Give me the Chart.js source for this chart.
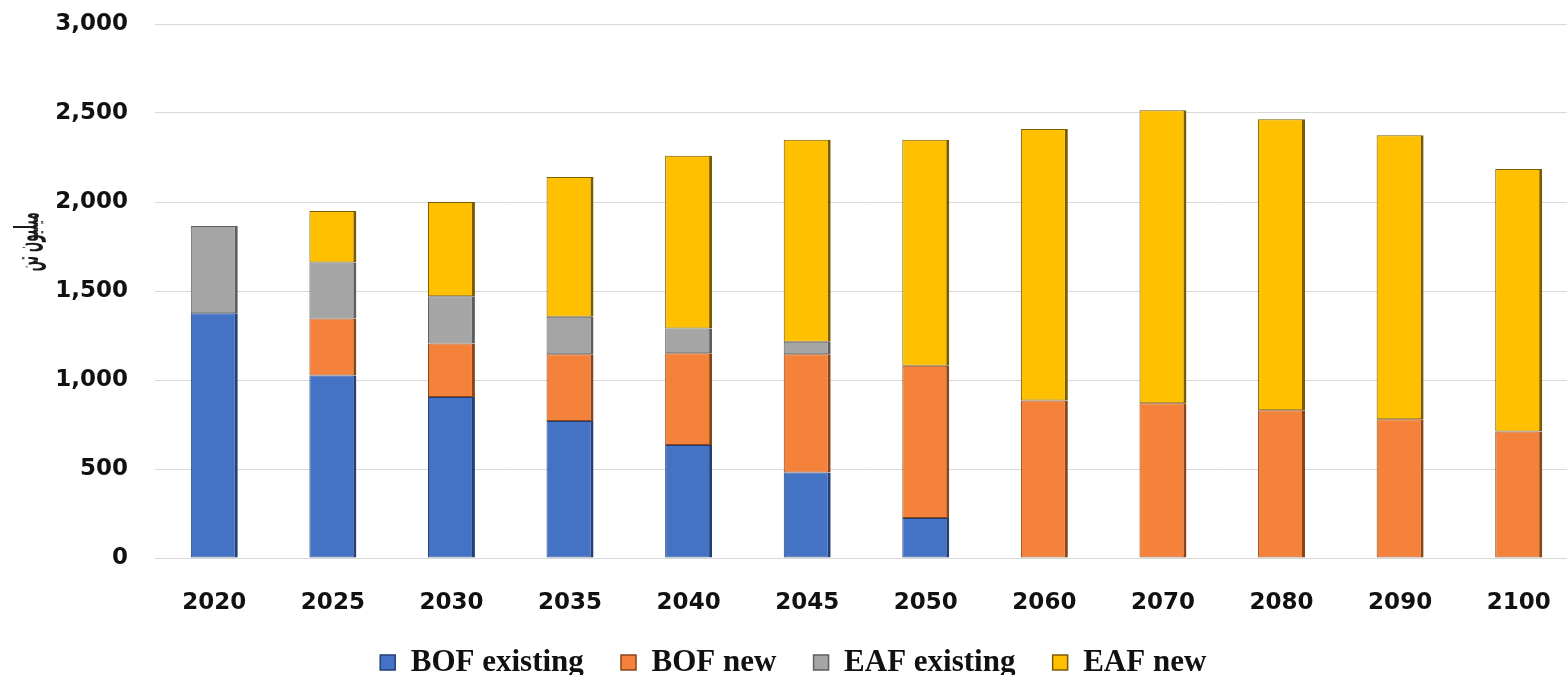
<!DOCTYPE html>
<html>
<head>
<meta charset="utf-8">
<script src="https://cdn.jsdelivr.net/npm/chart.js@4.4.1/dist/chart.umd.min.js"></script>
<style>
  html, body { margin: 0; padding: 0; background: #fff; overflow: hidden; }
  #wrap { width: 1578px; height: 675px; }
</style>
</head>
<body>
<div id="wrap"><canvas id="steel-chart" width="1578" height="675"></canvas></div>
<script>
// Data (million tonnes)
const years = ['2020', '2025', '2030', '2035', '2040', '2045', '2050', '2060', '2070', '2080', '2090', '2100'];
const bofExisting = [1375, 1025, 905, 770, 635, 480, 225, null, null, null, null, null];
const bofNew = [null, 320, 300, 375, 515, 665, 855, 885, 870, 830, 780, 710];
const eafExisting = [490, 315, 265, 210, 140, 70, null, null, null, null, null, null];
const eafNew = [null, 290, 530, 785, 970, 1135, 1270, 1525, 1645, 1635, 1595, 1475];
const yTitle = 'میلیون تن';

const tickFont = { family: 'DejaVu Sans', size: 23, weight: 'bold' };

function makeSet(label, data, fill, edge) {
    return {
        label: label,
        data: data,
        backgroundColor: fill,
        borderColor: edge,
        borderWidth: { top: 1, left: 1, bottom: 1, right: 3 },
        borderSkipped: false,
        barPercentage: 0.396,
        categoryPercentage: 1.0
    };
}

// draws the rotated y axis title a bit above the middle, like the original
const yTitlePlugin = {
    id: 'yTitle',
    afterDraw(chart) {
        const ctx = chart.ctx;
        const area = chart.chartArea;
        ctx.save();
        ctx.translate(29, area.top + (area.bottom - area.top) * 0.408);
        ctx.rotate(-Math.PI / 2);
        ctx.scale(0.36, 1);
        ctx.font = 'bold 33px "DejaVu Sans"';
        ctx.fillStyle = '#1a1a1a';
        ctx.textAlign = 'center';
        ctx.textBaseline = 'middle';
        ctx.fillText(yTitle, 0, 0);
        ctx.restore();
    }
};

const ctx = document.getElementById('steel-chart').getContext('2d');
const steelChart = new Chart(ctx, {
    type: 'bar',
    data: {
        labels: years,
        datasets: [
            makeSet('BOF existing', bofExisting, '#4472C4', '#243F73'),
            makeSet('BOF new', bofNew, '#F4823A', '#8A4518'),
            makeSet('EAF existing', eafExisting, '#A5A5A5', '#5E5E5E'),
            makeSet('EAF new', eafNew, '#FFC000', '#7A5C00')
        ]
    },
    options: {
        responsive: false,
        animation: false,
        layout: { padding: { top: 24, left: 55, right: 0, bottom: -13 } },
        plugins: {
            tooltip: { enabled: false },
            legend: {
                position: 'bottom',
                labels: {
                    color: '#111',
                    font: { family: 'Liberation Serif', size: 31, weight: 'bold' },
                    boxWidth: 15,
                    boxHeight: 15,
                    padding: 0,
                    generateLabels: chart => {
                        const items = Chart.defaults.plugins.legend.labels.generateLabels(chart);
                        items.forEach((it, i) => {
                            // spacing between entries; the last one is padded so the row sits a bit left
                            if (i < items.length - 1) it.text = it.text + '\u2002\u2002\u2009';
                            else it.text = it.text + '\u2003\u2002';
                        });
                        return items;
                    }
                }
            }
        },
        scales: {
            x: {
                stacked: true,
                grid: { display: false },
                border: { display: true, color: '#D9D9D9' },
                ticks: { color: '#111', font: tickFont, padding: 23 },
                afterFit: s => { s.height = 89; }
            },
            y: {
                stacked: true,
                min: 0,
                max: 3000,
                grid: { color: '#D9D9D9', drawTicks: true, tickLength: 27, tickColor: 'rgba(0,0,0,0)' },
                border: { display: false },
                ticks: {
                    stepSize: 500,
                    color: '#111',
                    font: tickFont,
                    padding: 0,
                    callback: v => v.toLocaleString('en-US')
                },
                afterFit: s => { s.width = 100; }
            }
        }
    },
    plugins: [yTitlePlugin]
});
</script>
</body>
</html>
